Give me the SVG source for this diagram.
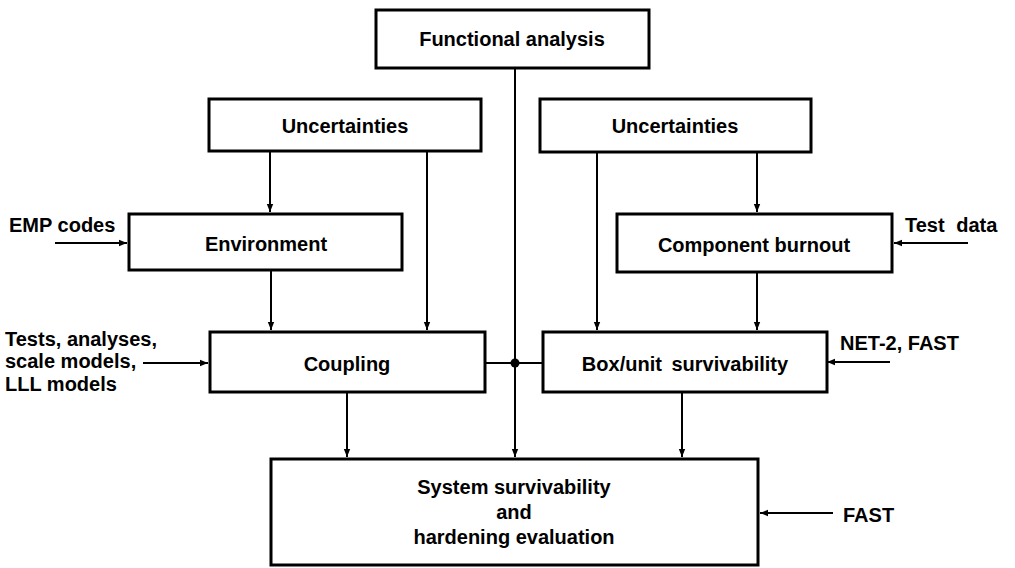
<svg xmlns="http://www.w3.org/2000/svg" width="1015" height="568" viewBox="0 0 1015 568">
<defs>
<marker id="ah" viewBox="0 0 10 10" refX="10" refY="5" markerWidth="4" markerHeight="4" markerUnits="strokeWidth" orient="auto">
<path d="M0,1 L10,5 L0,9 Z" fill="#000"/>
</marker>
</defs>
<style>
.box{fill:#fff;stroke:#000;stroke-width:3}
.t{font-family:"Liberation Sans",Arial,sans-serif;font-weight:bold;font-size:20px;fill:#000}
.c{text-anchor:middle}
.ln{fill:none;stroke:#000;stroke-width:2}
</style>
<rect width="1015" height="568" fill="#fff"/>
<g id="connectors">
<path class="ln" d="M515,68 V457" marker-end="url(#ah)"/>
<path class="ln" d="M270,151 V212" marker-end="url(#ah)"/>
<path class="ln" d="M427,151 V330" marker-end="url(#ah)"/>
<path class="ln" d="M597,152 V330" marker-end="url(#ah)"/>
<path class="ln" d="M757,152 V212" marker-end="url(#ah)"/>
<path class="ln" d="M271,270 V330" marker-end="url(#ah)"/>
<path class="ln" d="M757,272 V330" marker-end="url(#ah)"/>
<path class="ln" d="M347,392 V457" marker-end="url(#ah)"/>
<path class="ln" d="M682,392 V457" marker-end="url(#ah)"/>
<path class="ln" d="M485,363 H543"/>
<circle cx="515" cy="363" r="4.5" fill="#000"/>
<path class="ln" d="M55,243 H127" marker-end="url(#ah)"/>
<path class="ln" d="M968,243 H894" marker-end="url(#ah)"/>
<path class="ln" d="M143,363 H208" marker-end="url(#ah)"/>
<path class="ln" d="M890,362 H827" marker-end="url(#ah)"/>
<path class="ln" d="M833,513 H760" marker-end="url(#ah)"/>
</g>
<g id="functional">
<rect class="box" x="376" y="10" width="273" height="58"/>
<text class="t c" x="512" y="46">Functional analysis</text>
</g>
<g id="uncert-left">
<rect class="box" x="209" y="99" width="272" height="52"/>
<text class="t c" x="345" y="133">Uncertainties</text>
</g>
<g id="uncert-right">
<rect class="box" x="540" y="99" width="271" height="53"/>
<text class="t c" x="675" y="133">Uncertainties</text>
</g>
<g id="environment">
<rect class="box" x="129" y="214" width="273" height="56"/>
<text class="t c" x="266" y="251">Environment</text>
</g>
<g id="burnout">
<rect class="box" x="617" y="214" width="275" height="58"/>
<text class="t c" x="754" y="252">Component burnout</text>
</g>
<g id="coupling">
<rect class="box" x="210" y="332" width="275" height="60"/>
<text class="t c" x="347" y="371">Coupling</text>
</g>
<g id="boxunit">
<rect class="box" x="543" y="332" width="284" height="60"/>
<text class="t c" x="685" y="371" word-spacing="4">Box/unit survivability</text>
</g>
<g id="system">
<rect class="box" x="271" y="459" width="487" height="106"/>
<text class="t c" x="514" y="494">System survivability</text>
<text class="t c" x="514" y="519">and</text>
<text class="t c" x="514" y="544">hardening evaluation</text>
</g>
<g id="labels">
<text class="t" x="9" y="232">EMP codes</text>
<text class="t" x="905" y="232" word-spacing="6">Test data</text>
<text class="t" x="5" y="346">Tests, analyses,</text>
<text class="t" x="5" y="368">scale models,</text>
<text class="t" x="5" y="391">LLL models</text>
<text class="t" x="840" y="350">NET-2, FAST</text>
<text class="t" x="843" y="522">FAST</text>
</g>
</svg>
